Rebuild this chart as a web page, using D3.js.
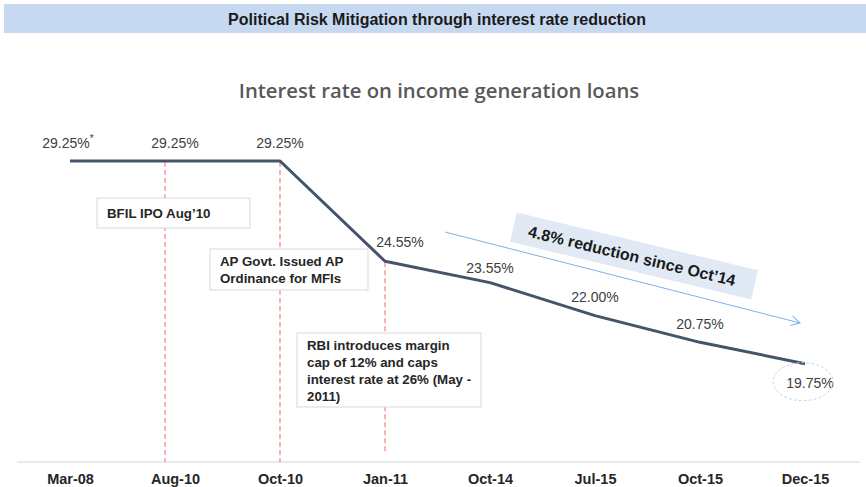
<!DOCTYPE html>
<html><head><meta charset="utf-8">
<script src="https://cdn.jsdelivr.net/npm/d3@7"></script>
<style>body{margin:0;background:#fff;} svg{display:block;}</style>
</head><body>
<svg id="c" width="866" height="487"></svg>
<script>
const categories = ["Mar-08","Aug-10","Oct-10","Jan-11","Oct-14","Jul-15","Oct-15","Dec-15"];
const rates = [29.25,29.25,29.25,24.55,23.55,22.00,20.75,19.75];
const rateLabels = ["29.25%","29.25%","29.25%","24.55%","23.55%","22.00%","20.75%","19.75%"];
const eventCats = ["Aug-10","Oct-10","Jan-11"];
const eventNotes = [
  {cat:"Aug-10", lines:["BFIL IPO Aug\u201910"]},
  {cat:"Oct-10", lines:["AP Govt. Issued AP","Ordinance for MFIs"]},
  {cat:"Jan-11", lines:["RBI introduces margin","cap of 12% and caps","interest rate at 26% (May -","2011)"]}
];
const headerTitle = "Political Risk Mitigation through interest rate reduction";
const chartTitle = "Interest rate on income generation loans";
const reductionText = "4.8% reduction since Oct\u201914";

const svg = d3.select("#c");
const x = d3.scalePoint().domain(categories).range([70,805]);
const y = d3.scaleLinear().domain([15,30]).range([465,145]);
const baseY = 462;
const lf = "Liberation Sans, Arial, sans-serif";

// header band
svg.append("rect").attr("x",4).attr("y",4).attr("width",862).attr("height",29).attr("fill","#C6D9F0");
svg.append("text").attr("x",437).attr("y",25).attr("text-anchor","middle")
  .attr("font-family",lf).attr("font-weight","bold").attr("font-size",16)
  .attr("fill","#1a1a1a").text(headerTitle);

svg.append("text").attr("x",439).attr("y",98).attr("text-anchor","middle")
  .attr("font-family","Open Sans, sans-serif").attr("font-weight",600).attr("font-size",20.3)
  .attr("fill","#595959").text(chartTitle);

// axis
svg.append("line").attr("x1",17).attr("x2",860).attr("y1",baseY).attr("y2",baseY).attr("stroke","#e3e3e3").attr("stroke-width",1.5);
const xAxis = d3.axisBottom(x).tickSize(0).tickPadding(12);
const gx = svg.append("g").attr("transform",`translate(0,${baseY})`).call(xAxis);
gx.select(".domain").remove();
gx.selectAll("text").attr("font-family",lf).attr("font-weight","bold")
  .attr("font-size",14.5).attr("fill","#262626");

// red dashed event lines
const eventShift = {"Aug-10":-10,"Oct-10":0,"Jan-11":0};
const eventEnds = {"Aug-10":baseY,"Oct-10":baseY,"Jan-11":452};
svg.selectAll(".ev").data(eventCats).enter().append("line")
  .attr("x1",d=>x(d)+eventShift[d]).attr("x2",d=>x(d)+eventShift[d])
  .attr("y1",d=>y(rates[categories.indexOf(d)])+1).attr("y2",d=>eventEnds[d])
  .attr("stroke","#FF8080").attr("stroke-width",1.2).attr("stroke-dasharray","5,3");

// annotation boxes
const boxGeo = {"Aug-10":{x:97,y:198,w:153,h:30},"Oct-10":{x:210,y:249,w:158,h:41},"Jan-11":{x:297,y:333,w:184,h:74}};
eventNotes.forEach(n=>{
  const b = boxGeo[n.cat];
  svg.append("rect").attr("x",b.x).attr("y",b.y).attr("width",b.w).attr("height",b.h)
    .attr("fill","#fff").attr("stroke","#d9d9d9").attr("stroke-width",1);
  const t = svg.append("text").attr("font-family",lf).attr("font-weight","bold")
    .attr("font-size",13.3).attr("fill","#262626");
  n.lines.forEach((l,i)=>{
    t.append("tspan").attr("x",b.x+10).attr("y",b.y+(n.lines.length===1?20:17)+i*17).text(l);
  });
});

// line
const line = d3.line().x((d,i)=>x(categories[i])).y(d=>y(d));
svg.append("path").datum(rates).attr("d",line).attr("fill","none")
  .attr("stroke","#44546A").attr("stroke-width",3).attr("stroke-linejoin","round");

// value labels
const lblOff = [[-2,-13],[0,-13],[0,-13],[15,-14],[0,-10],[0,-14],[0,-13],[5,24]];
rates.forEach((v,i)=>{
  const t = svg.append("text").attr("x",x(categories[i])+lblOff[i][0]).attr("y",y(v)+lblOff[i][1])
    .attr("text-anchor","middle").attr("font-family",lf).attr("font-size",14).attr("fill","#404040")
    .text(rateLabels[i]);
  if(i===0){ t.append("tspan").attr("dy",-6).attr("font-size",10).text("*"); }
});

// dashed ellipse around last label
const li = rates.length-1;
svg.append("ellipse").attr("cx",x(categories[li])-2).attr("cy",y(rates[li])+18).attr("rx",30).attr("ry",19)
  .attr("fill","none").attr("stroke","#BDD7EE").attr("stroke-width",1).attr("stroke-dasharray","3,2");

// reduction arrow
const ax1 = 445, ay1 = 232, ax2 = 800, ay2 = 323;
svg.append("line").attr("x1",ax1).attr("y1",ay1).attr("x2",ax2).attr("y2",ay2)
  .attr("stroke","#7FB1E3").attr("stroke-width",1);
const ang = Math.atan2(ay2-ay1, ax2-ax1)*180/Math.PI;
svg.append("path").attr("d","M-9,-5 L0,0 L-9,5").attr("fill","none").attr("stroke","#7FB1E3").attr("stroke-width",1)
  .attr("transform",`translate(${ax2},${ay2}) rotate(${ang})`);

const rg = svg.append("g").attr("transform",`translate(634,256) rotate(13.5)`);
rg.append("rect").attr("x",-124).attr("y",-15).attr("width",248).attr("height",30).attr("fill","#E0E9F4");
rg.append("text").attr("x",-2).attr("y",6).attr("text-anchor","middle").attr("font-family",lf)
  .attr("font-weight","bold").attr("font-size",16).attr("fill","#1a1a1a").text(reductionText);
</script>
</body></html>
